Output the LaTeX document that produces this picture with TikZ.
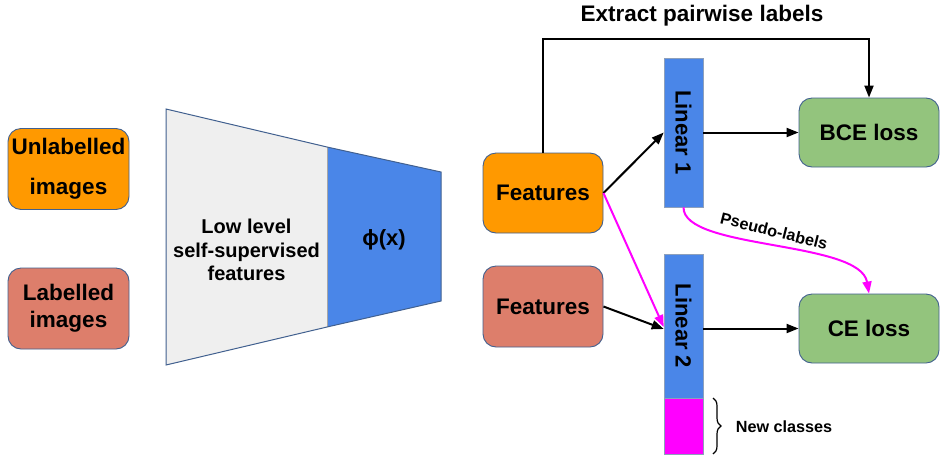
\documentclass[tikz,border=0pt]{standalone}
\usepackage{fontspec}
\setmainfont{Liberation Sans}
\usetikzlibrary{arrows.meta,decorations.pathreplacing}
\definecolor{Edge}{HTML}{41608F}
\definecolor{Orange}{HTML}{FF9900}
\definecolor{Salmon}{HTML}{DD7E6B}
\definecolor{Blue}{HTML}{4A86E8}
\definecolor{Green}{HTML}{93C47D}
\definecolor{LightGray}{HTML}{EFEFEF}
\definecolor{Magenta}{HTML}{FF00FF}

\begin{document}
\begin{tikzpicture}[x=1pt,y=-1pt,
    b/.style={draw=Edge,line width=0.9pt,rounded corners=13pt,minimum width=121pt,minimum height=81pt,inner sep=0pt,align=center,font=\fontsize{22.5}{27}\selectfont\bfseries},
    loss/.style={b,fill=Green,minimum width=140pt,minimum height=69pt},
    lin/.style={draw=Edge!60,line width=0.6pt,fill=Blue,minimum width=39pt,inner sep=0pt,font=\fontsize{22}{26}\selectfont\bfseries},
    t/.style={font=\fontsize{20}{23.5}\selectfont\bfseries,align=center},
    a/.style={-{Triangle[length=12pt,width=9pt]},line width=2pt},
    m/.style={a,draw=Magenta}
  ]
    \useasboundingbox (0,0) rectangle (941,456);
    % inputs
    \node[b,fill=Orange,font=\fontsize{22.5}{40}\selectfont\bfseries] (unlab) at (68.5,169) {Unlabelled\\images};
    \node[b,fill=Salmon] (lab) at (68.5,308.5) {Labelled\\images};
    % backbone
    \fill[LightGray] (166,109) -- (327,147) -- (327,327) -- (166,365) -- cycle;
    \fill[Blue] (327,147) -- (441,172) -- (441,301) -- (327,327) -- cycle;
    \draw[gray!70,line width=0.6pt] (327,147) -- (327,327);
    \draw[Edge,line width=1pt] (166,109) -- (327,147) -- (441,172) -- (441,301) -- (327,327) -- (166,365) -- cycle;
    \node[t] (low) at (246.5,250) {Low level\\self-supervised\\features};
    \node[t,font=\fontsize{22}{26}\selectfont\bfseries] (phi) at (384,240) {ϕ(x)};
    % heads
    \node[b,fill=Orange,minimum width=120pt,minimum height=80pt] (feat1) at (543,193) {Features};
    \node[b,fill=Salmon,minimum width=120pt,minimum height=81pt] (feat2) at (543,306.5) {Features};
    \node[lin,minimum height=149pt] (lin1) at (683.5,132.5) {\rotatebox{-90}{Linear 1}};
    \node[lin,minimum height=144pt] (lin2) at (683.5,326) {\rotatebox{-90}{Linear 2}};
    \node[lin,fill=Magenta,minimum height=56pt] (new) at (683.5,426) {};
    \node[loss] (bce) at (869,132.5) {BCE loss};
    \node[loss] (ce) at (869,328.5) {CE loss};
    \node[t,font=\fontsize{22.5}{27}\selectfont\bfseries] (pair) at (702,16) {Extract pairwise labels};
    \draw[a] (feat1.north) -- (feat1.north |- 0,39) -| (bce.north);
    \draw[a] (feat1.east) -- (lin1.west);
    \draw[a] (lin1.east) -- (bce.west);
    \draw[a] (feat2.east) -- ([yshift=-3pt]lin2.west);
    \draw[a] (ce.west -| lin2.east) -- (ce.west);
    \draw[m] (feat1.east) -- ([yshift=-1pt]lin2.west);
    \draw[m] (lin1.south) .. controls (683,250) and (860,240) .. (ce.north);
    \node[t,font=\fontsize{16.2}{19}\selectfont\bfseries,rotate=-14] (pseudo) at (774,231) {Pseudo-labels};
    % new classes
    \coordinate (bt) at (713,398);
    \coordinate (bb) at (713,454);
    \draw[decorate,decoration={brace,amplitude=8pt},line width=1.2pt] (bt) -- (bb);
    \node[t,font=\fontsize{16.2}{19}\selectfont\bfseries] (newlbl) at (784,427) {New classes};
  \end{tikzpicture}
\end{document}
